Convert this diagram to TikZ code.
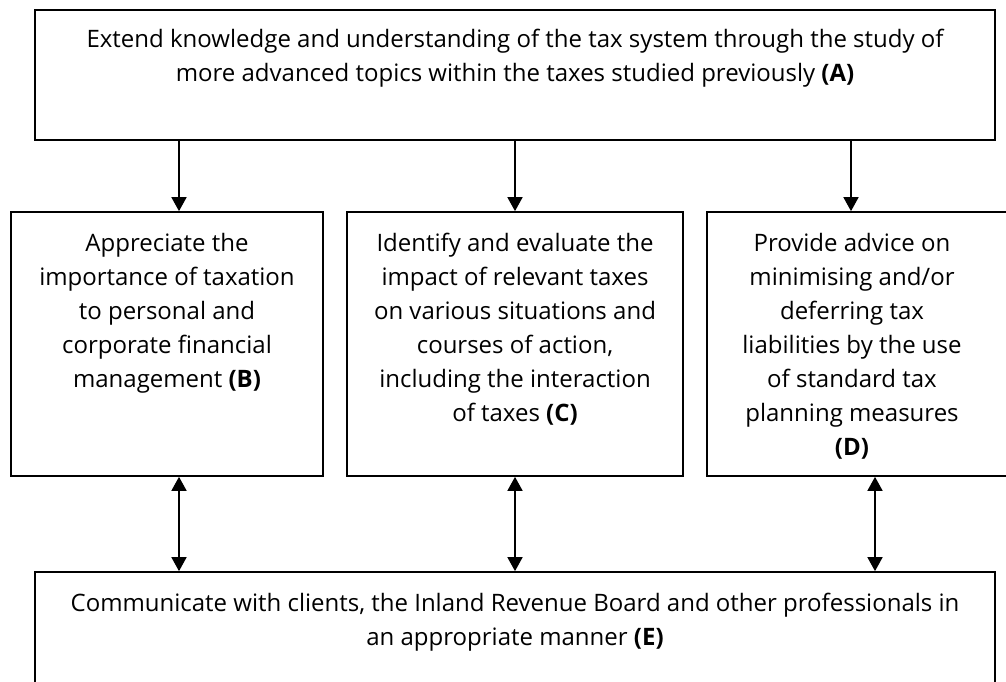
\documentclass[tikz,border=0pt]{standalone}
\usepackage{fontspec}
\setmainfont{Open Sans}
\usetikzlibrary{positioning,arrows.meta}

\begin{document}
\begin{tikzpicture}[x=1pt,y=-1pt,
    box/.style={rectangle, draw, line width=1.7pt, inner sep=0pt},
    txt/.style={align=center, anchor=north, inner sep=0pt, font=\fontsize{24}{34}\selectfont},
    arr/.style={-{Triangle[width=15pt,length=14pt]}, line width=1.7pt},
    dblarr/.style={{Triangle[width=15pt,length=14pt]}-{Triangle[width=15pt,length=14pt]}, line width=1.7pt}]
  \clip (0,0) rectangle (1006,682);
  % Top box (A)
  \node[box, minimum width=960pt, minimum height=130pt] (boxA) at (515,75) {};
  \node[txt] (txtA) at ([yshift=-20pt]boxA.north) {Extend knowledge and understanding of the tax system through the study of\\
    more advanced topics within the taxes studied previously \textbf{(A)}};
  % Middle boxes (B), (C), (D)
  \node[box, minimum width=312pt, minimum height=264pt] (boxB) at (167,344) {};
  \node[txt] (txtB) at ([yshift=-22pt]boxB.north) {Appreciate the\\importance of taxation\\to personal and\\corporate financial\\management \textbf{(B)}};
  \node[box, minimum width=336pt, minimum height=264pt] (boxC) at (515,344) {};
  \node[txt] (txtC) at ([yshift=-22pt]boxC.north) {Identify and evaluate the\\impact of relevant taxes\\on various situations and\\courses of action,\\including the interaction\\of taxes \textbf{(C)}};
  \node[box, minimum width=303pt, minimum height=264pt] (boxD) at (858.5,344) {};
  \node[txt] (txtD) at ([xshift=-6.5pt,yshift=-22pt]boxD.north) {Provide advice on\\minimising and/or\\deferring tax\\liabilities by the use\\of standard tax\\planning measures\\\textbf{(D)}};
  % Bottom box (E)
  \node[box, minimum width=960pt, minimum height=150pt] (boxE) at (515,647) {};
  \node[txt] (txtE) at ([yshift=-22pt]boxE.north) {Communicate with clients, the Inland Revenue Board and other professionals in\\
    an appropriate manner \textbf{(E)}};
  % Arrows from A
  \draw[arr] ([xshift=12pt]boxB.north |- boxA.south) -- ([xshift=12pt]boxB.north);
  \draw[arr] (boxC.north |- boxA.south) -- (boxC.north);
  \draw[arr] ([xshift=-7.5pt]boxD.north |- boxA.south) -- ([xshift=-7.5pt]boxD.north);
  % Two-way arrows to E
  \draw[dblarr] ([xshift=12pt]boxB.south) -- ([xshift=12pt]boxB.south |- boxE.north);
  \draw[dblarr] (boxC.south) -- (boxC.south |- boxE.north);
  \draw[dblarr] ([xshift=16.5pt]boxD.south) -- ([xshift=16.5pt]boxD.south |- boxE.north);
\end{tikzpicture}
\end{document}
